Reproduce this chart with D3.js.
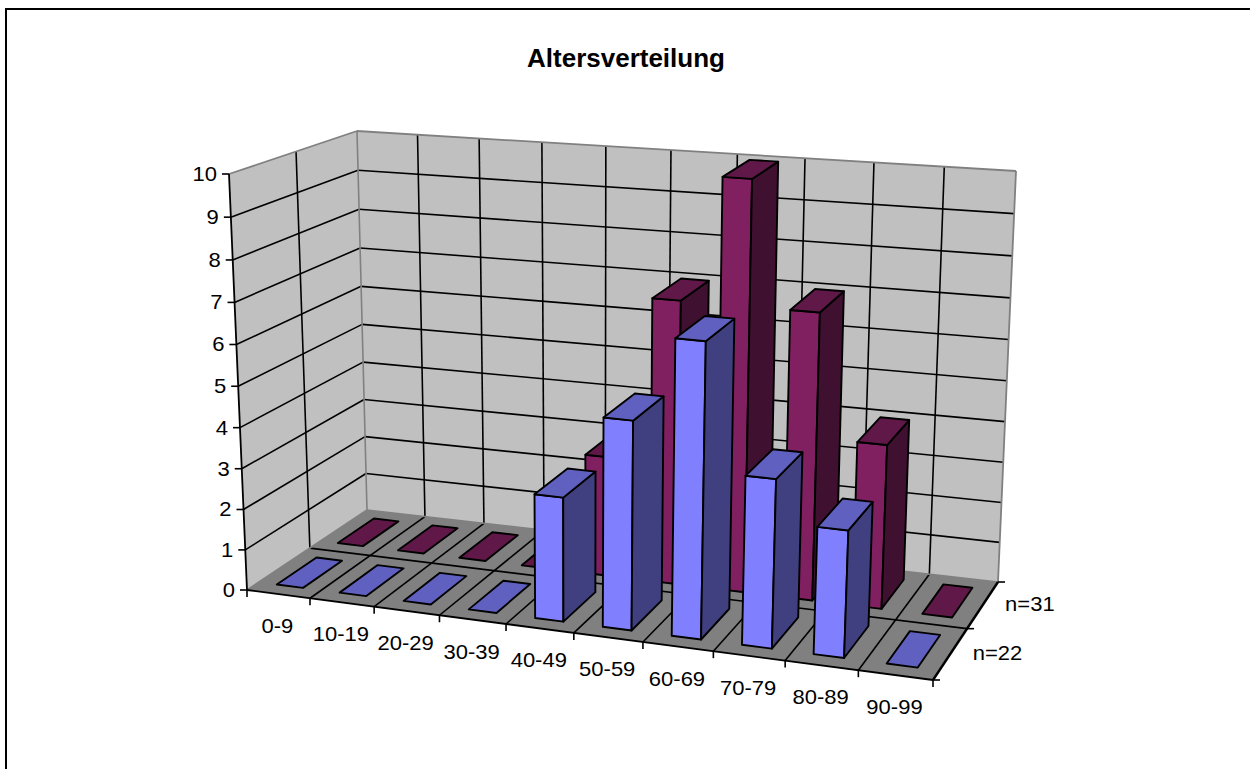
<!DOCTYPE html>
<html>
<head>
<meta charset="utf-8">
<script src="https://cdn.jsdelivr.net/npm/d3@7"></script>
<style>
  html, body { margin: 0; padding: 0; background: #fff; }
  svg { display: block; }
  text { font-family: "Liberation Sans", Arial, sans-serif; fill: #000; }
</style>
</head>
<body>
<script>
// Age distribution of two groups, one row of columns per group
const categories = ["0-9", "10-19", "20-29", "30-39", "40-49", "50-59", "60-69", "70-79", "80-89", "90-99"];
const seriesNames = ["n=22", "n=31"];
const valuesN22 = [0, 0, 0, 0, 3, 5, 7, 4, 3, 0];
const valuesN31 = [0, 0, 0, 0, 3, 7, 10, 7, 4, 0];
const valueTicks = [0, 1, 2, 3, 4, 5, 6, 7, 8, 9, 10];

const rows = [
  { name: seriesNames[0], values: valuesN22, front: "#8080ff", side: "#404080", top: "#6060c0" },
  { name: seriesNames[1], values: valuesN31, front: "#802060", side: "#401030", top: "#601848" }
];

const width = 1250, height = 769;

// Screen positions of the plot box corners: [front/back][left/right] at floor and ceiling
const floorCorners = { fl: [247, 590], fr: [933, 680], bl: [367, 510], br: [998, 582] };
const ceilCorners = { fl: [229, 174], fr: [953, 235], bl: [357, 131], br: [1016, 171] };

// Foreshortening along each axis of the box
const foreshortenX = 0.91, foreshortenY = 1.1, foreshortenZ = 0.96;
const warp = (t, k) => t * k / (1 + (k - 1) * t);
const mix = (a, b, t) => [a[0] + (b[0] - a[0]) * t, a[1] + (b[1] - a[1]) * t];

// Maps a point of the unit box (x along categories, y into depth, z upward) to the screen
function project(x, y, z) {
  const fx = warp(x, foreshortenX), fy = warp(y, foreshortenY), fz = warp(z, foreshortenZ);
  const plane = (c) => mix(mix(c.fl, c.fr, fx), mix(c.bl, c.br, fx), fy);
  return mix(plane(floorCorners), plane(ceilCorners), fz);
}

const xScale = d3.scaleBand().domain(categories).range([0, 1]).paddingInner(0.58).paddingOuter(0.29);
const xStep = d3.scaleBand().domain(categories).range([0, 1]);
const depthScale = d3.scaleBand().domain(seriesNames).range([0, 1]).paddingInner(0.36).paddingOuter(0.18);
const depthStep = d3.scaleBand().domain(seriesNames).range([0, 1]);
const zScale = d3.scaleLinear().domain([0, 10]).range([0, 1]);

const path = d3.line();
const svg = d3.select("body").append("svg").attr("width", width).attr("height", height);

// Chart frame
svg.append("path")
  .attr("d", "M6 769V9H1250")
  .attr("fill", "none").attr("stroke", "#000").attr("stroke-width", 2);

svg.append("text").attr("x", 626).attr("y", 67)
  .attr("text-anchor", "middle").attr("font-weight", "bold").attr("font-size", 26)
  .text("Altersverteilung");

const quad = (pts, fill, stroke, sw) => svg.append("path")
  .attr("d", path(pts) + "Z").attr("fill", fill).attr("stroke", stroke || "none").attr("stroke-width", sw || 0)
  .attr("stroke-linejoin", "round");
const seg = (a, b, stroke, sw) => svg.append("path")
  .attr("d", path([a, b])).attr("fill", "none").attr("stroke", stroke).attr("stroke-width", sw);
// Axis labels are set slightly wide
const label = (x, y, anchor, str) => svg.append("text")
  .attr("transform", `translate(${x},${y}) scale(1.1,1)`)
  .attr("text-anchor", anchor).attr("font-size", 20).text(str);

// Walls and floor
quad([project(0, 0, 0), project(0, 1, 0), project(0, 1, 1), project(0, 0, 1)], "#c0c0c0");
quad([project(0, 1, 0), project(1, 1, 0), project(1, 1, 1), project(0, 1, 1)], "#c0c0c0");
quad([project(0, 0, 0), project(1, 0, 0), project(1, 1, 0), project(0, 1, 0)], "#808080");

// Gridlines on the walls and floor
valueTicks.slice(1, -1).forEach(t => {
  const z = zScale(t);
  seg(project(0, 0, z), project(0, 1, z), "#000", 1.6);
  seg(project(0, 1, z), project(1, 1, z), "#000", 1.6);
});
const xBounds = categories.map(c => xStep(c)).concat(1);
xBounds.slice(1, -1).forEach(x => {
  seg(project(x, 1, 0), project(x, 1, 1), "#000", 1.6);
  seg(project(x, 0, 0), project(x, 1, 0), "#000", 1.6);
});
const midDepth = depthStep(seriesNames[1]);
seg(project(0, midDepth, 0), project(0, midDepth, 1), "#000", 1.6);
seg(project(0, midDepth, 0), project(1, midDepth, 0), "#000", 1.6);

// Wall outlines
seg(project(0, 1, 0), project(0, 1, 1), "#808080", 1.6);
seg(project(1, 1, 0), project(1, 1, 1), "#808080", 1.8);
seg(project(0, 1, 1), project(1, 1, 1), "#808080", 1.8);
seg(project(0, 0, 1), project(0, 1, 1), "#808080", 1.8);
seg(project(0, 1, 0), project(1, 1, 0), "#808080", 1.6);
seg(project(0, 0, 0), project(0, 1, 0), "#808080", 1.6);

// Columns: back row first, left to right
[...rows].reverse().forEach(row => {
  const y0 = depthScale(row.name), y1 = y0 + depthScale.bandwidth();
  categories.forEach((cat, i) => {
    const x0 = xScale(cat), x1 = x0 + xScale.bandwidth();
    const z = zScale(row.values[i]);
    if (row.values[i] > 0) {
      quad([project(x0, y0, 0), project(x1, y0, 0), project(x1, y0, z), project(x0, y0, z)], row.front, "#000", 1.9);
      quad([project(x1, y0, 0), project(x1, y1, 0), project(x1, y1, z), project(x1, y0, z)], row.side, "#000", 1.9);
    }
    quad([project(x0, y0, z), project(x1, y0, z), project(x1, y1, z), project(x0, y1, z)], row.top, "#000", 1.9);
  });
});

// Axis lines and ticks
seg(project(0, 0, 0), project(0, 0, 1), "#000", 1.8);
seg(project(0, 0, 0), project(1, 0, 0), "#000", 1.8);
seg(project(1, 0, 0), project(1, 1, 0), "#000", 2.4);

valueTicks.forEach(t => {
  const p = project(0, 0, zScale(t));
  seg([p[0] - 7, p[1]], p, "#000", 1.6);
  label(p[0] - 12, p[1] + 7, "end", t);
});
xBounds.forEach(x => {
  const p = project(x, 0, 0);
  seg(p, [p[0], p[1] + 7], "#000", 1.6);
});
[0, midDepth, 1].forEach(y => {
  const p = project(1, y, 0);
  seg(p, [p[0] + 7, p[1]], "#000", 1.6);
});
categories.forEach(c => {
  const p = project(xStep(c) + xStep.bandwidth() / 2, 0, 0);
  label(p[0] - 1, p[1] + 39, "middle", c);
});
seriesNames.forEach(s => {
  const p = project(1, depthStep(s) + depthStep.bandwidth() / 2, 0);
  label(p[0] + 47, p[1] + 6, "middle", s);
});
</script>
</body>
</html>
